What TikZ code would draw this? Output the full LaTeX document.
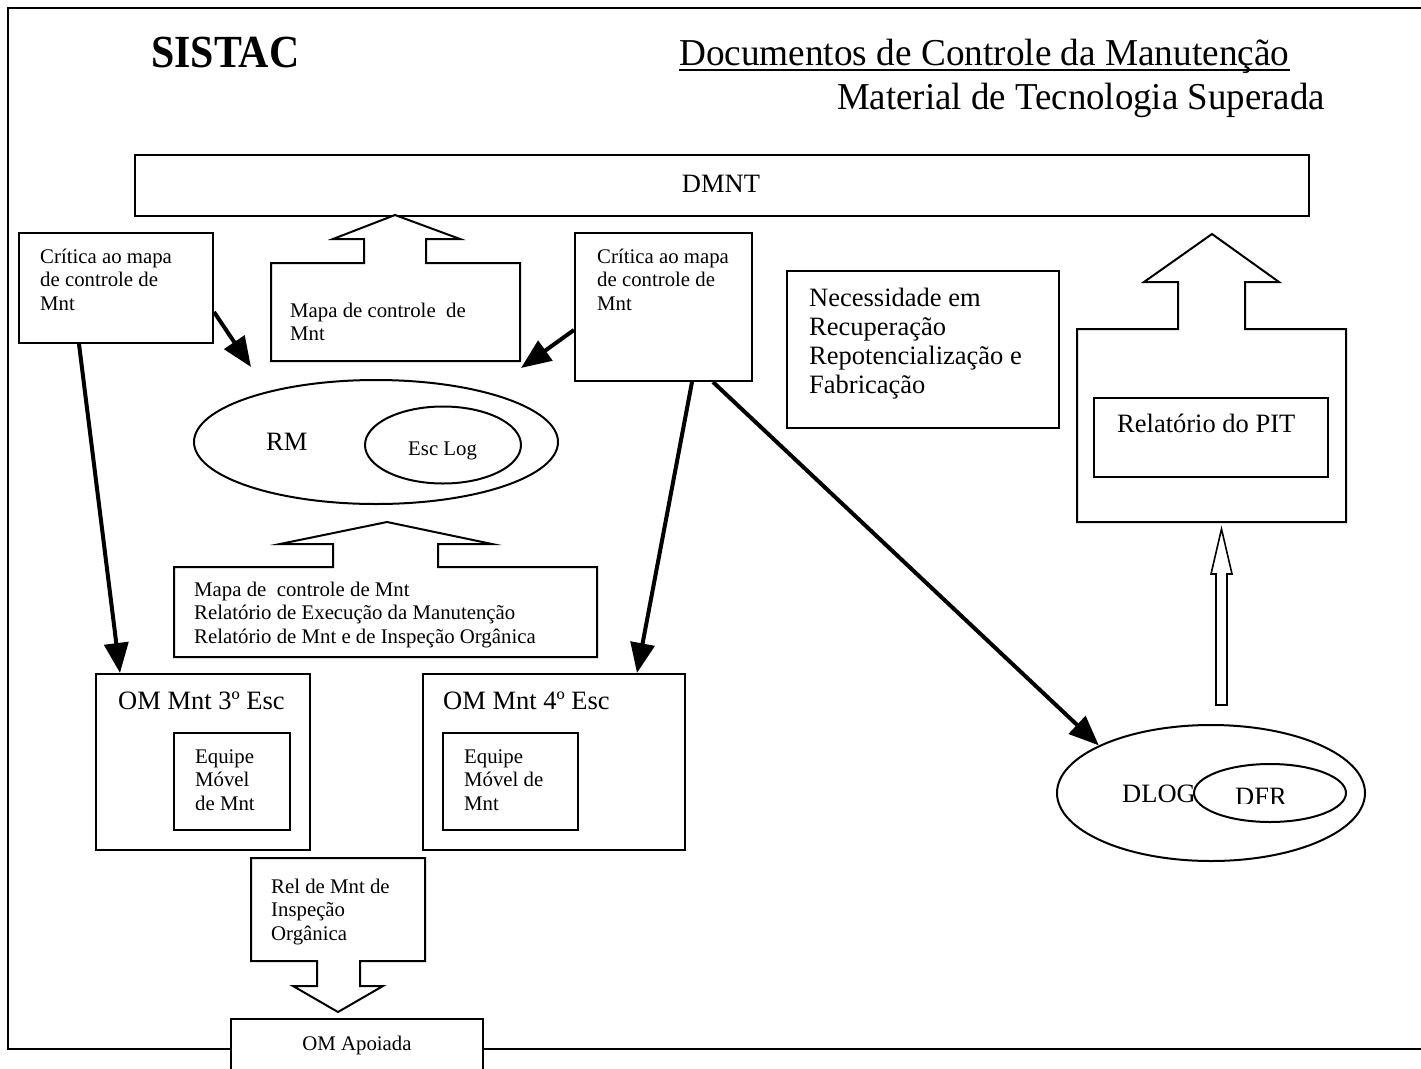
\documentclass[tikz,border=0pt]{standalone}
\usepackage{graphicx}
\usepackage{fontspec}
\setmainfont{Liberation Serif}
\usetikzlibrary{arrows.meta,shapes.geometric,fit}
% strut that fixes the top of the first line of a multi-line label
\newcommand\firstrow{\rule{0pt}{0.8em}}

\begin{document}
\begin{tikzpicture}[x=1pt,y=-1pt,
  frame/.style={line width=2.2pt},
  box/.style={draw, line width=2pt, inner sep=0pt, fill=white},
  blockarrow/.style={draw, line width=2pt, line join=miter, fill=white},
  oval/.style={draw, ellipse, line width=2pt, inner sep=0pt},
  heavy/.style={line width=4pt, -{Triangle[length=30pt,width=24pt]}},
  small/.style={font=\fontsize{20.8}{23.5}\selectfont, inner sep=0pt},
  mid/.style={font=\fontsize{26.5}{29}\selectfont, inner sep=0pt},
  big/.style={font=\fontsize{38}{42}\selectfont, inner sep=0pt, anchor=base west},
  lines/.style={align=left, anchor=north west},
]
\useasboundingbox (0,0) rectangle (1421,1068);
\clip (0,0) rectangle (1421,1068);

% outer frame (open on the right)
\draw[frame] (1421,8) -- (8,8) -- (8,1049) -- (1421,1049);

% headings
\node[big, font=\fontsize{46}{50}\selectfont\bfseries] (sistac) at (151,67) {\scalebox{0.91}[1]{SISTAC}};
\node[big] (doc) at (679,65) {\scalebox{0.98}[1]{Documentos de Controle da Manutenção}};
\draw[line width=1.8pt] ([yshift=-5pt]doc.base west) -- ([yshift=-5pt]doc.base east);
\node[big] (mat) at (837,109) {\scalebox{0.97}[1]{Material de Tecnologia Superada}};

% DMNT
\node[box, fit={(135,155) (1309,216)}] (dmnt) {};
\node[mid, anchor=base] (dmnttxt) at (721,192) {DMNT};

% upward block arrow: Mapa de controle de Mnt
\draw[blockarrow] (271,361) -- (271,263) -- (364,263) -- (364,239) -- (333,239) -- (395,215)
  -- (460,239) -- (426,239) -- (426,263) -- (520,263) -- (520,361) -- cycle;
\node[small, lines] (mapatxt) at (290,300.4) {\firstrow Mapa de controle~ de\\Mnt};

% critique boxes
\node[box, fit={(19,233) (213,343)}] (critL) {};
\node[small, lines] (critLtxt) at (40,246.4) {\firstrow Crítica ao mapa\\de controle de\\Mnt};
\node[box, fit={(575,233) (752,381)}] (critM) {};
\node[small, lines] (critMtxt) at (597,246.4) {\firstrow Crítica ao mapa\\de controle de\\Mnt};

% needs box
\node[box, fit={(787,271) (1059,428)}] (nec) {};
\node[mid, lines] (nectxt) at (809,284.8) {\firstrow Necessidade em\\Recuperação\\Repotencialização e\\Fabricação};

% upward block arrow with the PIT report
\draw[blockarrow] (1077,522) -- (1077,329) -- (1178,329) -- (1178,282) -- (1144,282) -- (1212,234)
  -- (1279,282) -- (1245,282) -- (1245,329) -- (1346,329) -- (1346,522) -- cycle;
\node[box, fit={(1094,398) (1328,477)}] (pit) {};
\node[mid, anchor=base west] (pittxt) at (1117,432) {Relatório do PIT};

% thin hollow arrow from DLOG up to the PIT report
\draw[line width=1.6pt, line join=miter, fill=white] (1216,705) -- (1216,574) -- (1211,574) -- (1221.5,529)
  -- (1232,574) -- (1227,574) -- (1227,705) -- cycle;

% RM with Esc Log
\node[oval, minimum width=364, minimum height=124] (rm) at (376,442) {};
\node[mid, anchor=base west] (rmtxt) at (266,450) {RM};
\node[oval, minimum width=156, minimum height=77] (esclog) at (443,445) {};
\node[small, anchor=base west] (esclogtxt) at (408,455) {Esc Log};

% DLOG with DFR
\node[oval, minimum width=308, minimum height=136] (dlog) at (1211,793) {};
\node[mid, anchor=base west] (dlogtxt) at (1122,802) {DLOG};
\node[oval, fill=white, minimum width=152, minimum height=58] (dfr) at (1270,793) {};
\begin{scope}
  \clip (1200,770) rectangle (1330,803);
  \node[mid, anchor=base west] (dfrtxt) at (1235,805.5) {DFR};
\end{scope}

% upward block arrow with the reports to RM
\draw[blockarrow] (174,657) -- (174,567) -- (333,567) -- (333,544) -- (280,544) -- (387,522)
  -- (492,544) -- (438,544) -- (438,567) -- (597,567) -- (597,657) -- cycle;
\node[small, lines] (reptxt) at (194,579.4) {\firstrow Mapa de~ controle de Mnt\\Relatório de Execução da Manutenção\\Relatório de Mnt e de Inspeção Orgânica};

% maintenance organisations
\node[box, fit={(96,674) (310,850)}] (om3) {};
\node[mid, anchor=base west] (om3txt) at (118,709) {OM Mnt 3º Esc};
\node[box, fit={(174,733) (290,830)}] (eq3) {};
\node[small, lines] (eq3txt) at (195,746.4) {\firstrow Equipe\\Móvel\\de Mnt};
\node[box, fit={(423,674) (685,850)}] (om4) {};
\node[mid, anchor=base west] (om4txt) at (443,709) {OM Mnt 4º Esc};
\node[box, fit={(443,733) (578,830)}] (eq4) {};
\node[small, lines] (eq4txt) at (464,746.4) {\firstrow Equipe\\Móvel de\\Mnt};

% downward block arrow to the supported unit
\draw[blockarrow] (251,858) -- (425,858) -- (425,961) -- (360,961) -- (360,986) -- (383,986)
  -- (338,1012) -- (293,986) -- (317,986) -- (317,961) -- (251,961) -- cycle;
\node[small, lines] (reltxt) at (271,876.4) {\firstrow Rel de Mnt de\\Inspeção\\Orgânica};

\node[box, fit={(231,1019) (483,1080)}] (apoiada) {};
\node[small, anchor=base] (apoiadatxt) at (357,1050) {OM Apoiada};

% heavy connectors
\coordinate (rmleft) at (251,367);
\coordinate (rmright) at (521,368);
\draw[heavy] (critL.east |- 0,312) -- (rmleft);
\draw[heavy] (critM.west |- 0,330) -- (rmright);
\draw[heavy] (critL.south -| 79,0) -- (om3.north -| 120,0);
\draw[heavy] (critM.south -| 692,0) -- (om4.north -| 637,0);
\draw[heavy] (critM.south -| 713,0) -- (dlog.157);
\end{tikzpicture}
\end{document}
